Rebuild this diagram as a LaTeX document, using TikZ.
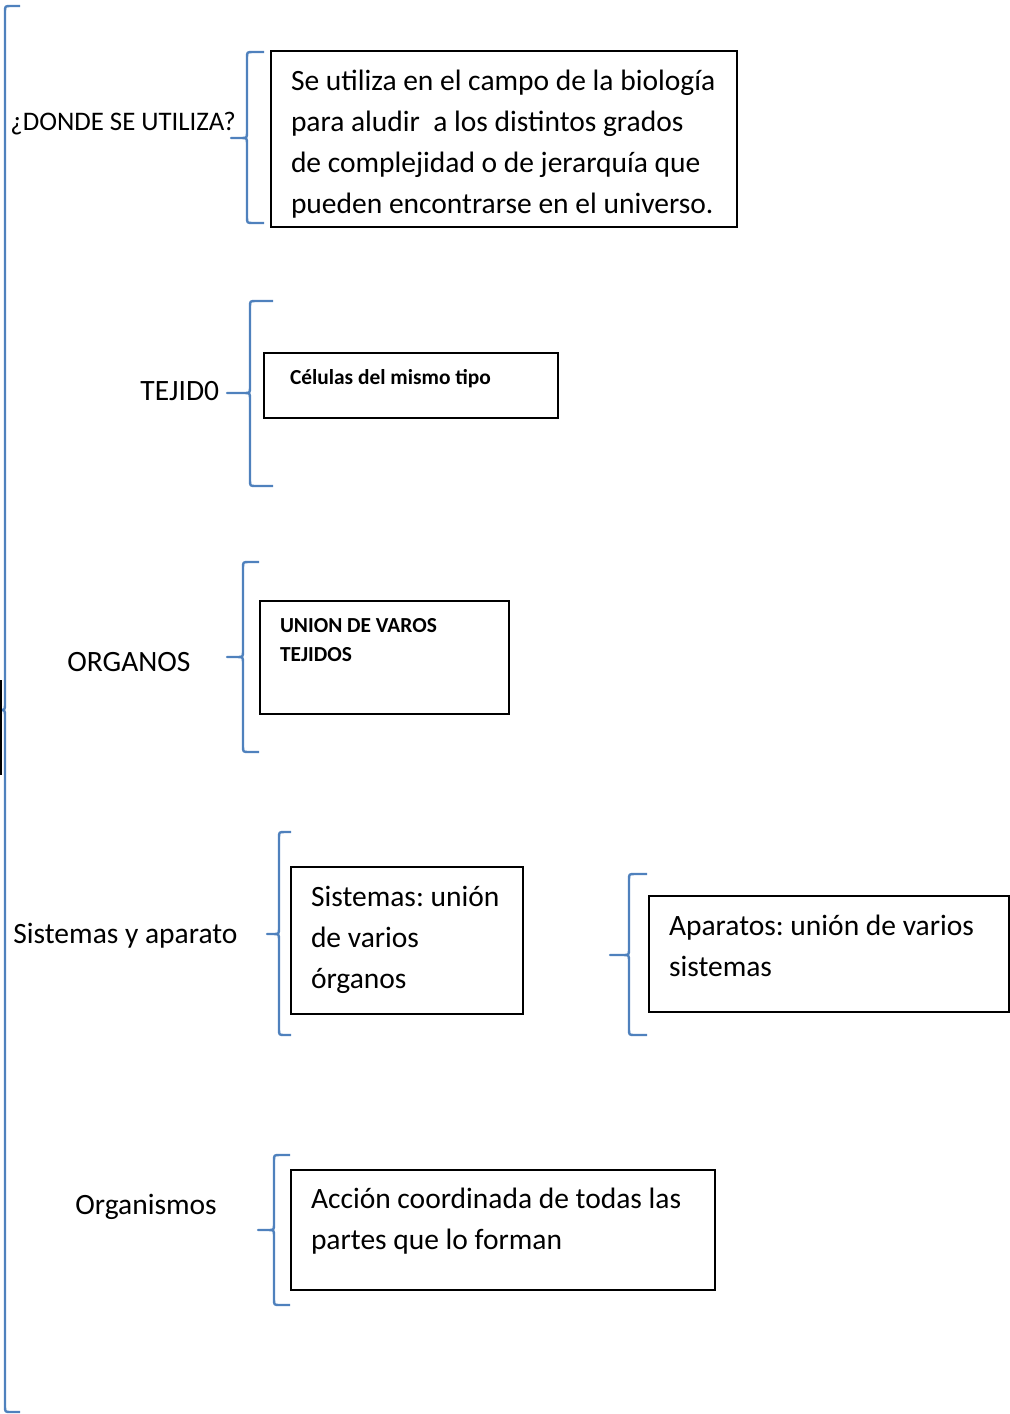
\documentclass[tikz,border=0pt]{standalone}
\usepackage{fontspec}
\setmainfont{Carlito}
\frenchspacing
\definecolor{azulllave}{RGB}{79,129,189}
\newcommand{\fgrande}{\fontsize{14.75}{20.5}\selectfont}
\newcommand{\fchica}{\fontsize{10.7}{14.5}\selectfont\bfseries}
\newcommand{\fdonde}{\fontsize{13.4}{15}\selectfont}
% text of a box: width, height, top gap, lines
\newcommand{\cajatexto}[4]{\parbox[t][#2][t]{#1}{\vspace*{#3}\strut#4}}
% brace: vertical x, top y, bottom y, hook end x, tip y, tip x
\newcommand{\llave}[6]{%
  \draw[llavestyle] (#4,#2) -- (#1+6,#2) .. controls (#1,#2) .. (#1,#2+6)
    -- (#1,#5-6) .. controls (#1,#5) .. (#1-6,#5) -- (#6,#5)
    -- (#1-6,#5) .. controls (#1,#5) .. (#1,#5+6)
    -- (#1,#3-6) .. controls (#1,#3) .. (#1+6,#3) -- (#4,#3);}
\tikzset{
  llavestyle/.style={draw=azulllave, line width=1.2pt, line join=round},
  caja/.style={draw, line width=1pt, anchor=north west, inner xsep=10pt, inner ysep=0pt},
  etiqueta/.style={anchor=base west, inner sep=0pt},
}
\begin{document}
\begin{tikzpicture}[x=0.5pt,y=-0.5pt]
    \useasboundingbox (0,0) rectangle (1010,1414);
    % big brace on the left
    \llave{5}{6}{1412}{20}{710}{0}
    \draw[line width=1pt] (1,680) -- (1,775);
    % labels
    \node[etiqueta, font=\fdonde] (donde) at (10,130) {¿DONDE SE UTILIZA?};
    \node[etiqueta, font=\fgrande] (tejido) at (140,400) {TEJID0};
    \node[etiqueta, font=\fgrande] (organos) at (67,671) {ORGANOS};
    \node[etiqueta, font=\fgrande] (sistemas) at (13,943) {Sistemas y aparato};
    \node[etiqueta, font=\fgrande] (organismos) at (75,1214) {Organismos};
    % braces
    \llave{247}{52}{223}{264}{138}{231}
    \llave{250}{301}{486}{273}{393}{227}
    \llave{243}{562}{752}{259}{657}{227}
    \llave{279}{832}{1035}{291}{934}{267}
    \llave{629}{874}{1035}{647}{955}{610}
    \llave{274}{1155}{1305}{290}{1230}{258}
    % boxes
    \node[caja, font=\fgrande] (uso) at (270,50)
      {\cajatexto{213pt}{88pt}{5.4pt}{Se utiliza en el campo de la biología\\
       para aludir\ \ a los distintos grados\\
       de complejidad o de jerarquía que\\
       pueden encontrarse en el universo.}};
    \node[caja, font=\fchica, inner xsep=13pt] (celulas) at (263,352)
      {\cajatexto{121pt}{32.5pt}{5.4pt}{Células del mismo tipo}};
    \node[caja, font=\fchica] (union) at (259,600)
      {\cajatexto{104.5pt}{56.5pt}{5.4pt}{UNION DE VAROS\\TEJIDOS}};
    \node[caja, font=\fgrande] (sist) at (290,866)
      {\cajatexto{96pt}{73.5pt}{5.4pt}{Sistemas: unión\\de varios\\órganos}};
    \node[caja, font=\fgrande] (apar) at (648,895)
      {\cajatexto{160pt}{58pt}{5.2pt}{Aparatos: unión de varios\\sistemas}};
    \node[caja, font=\fgrande] (accion) at (290,1169)
      {\cajatexto{192pt}{60pt}{4.9pt}{Acción coordinada de todas las\\partes que lo forman}};
\end{tikzpicture}
\end{document}
